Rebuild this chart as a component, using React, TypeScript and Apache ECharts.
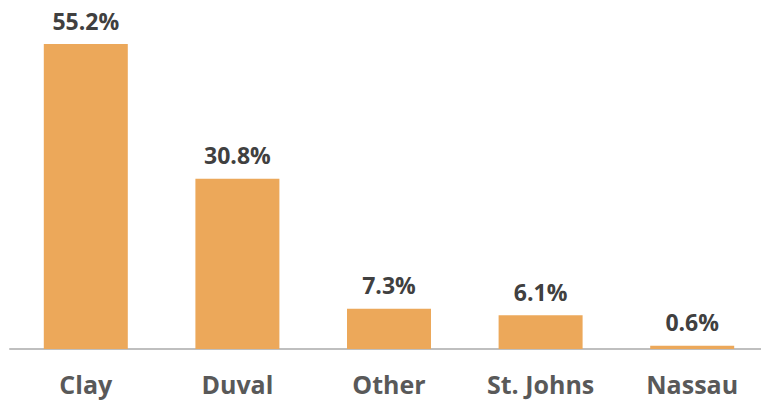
import React, { useEffect, useRef } from "react";
import * as echarts from "echarts";

const categories = ["Clay", "Duval", "Other", "St. Johns", "Nassau"];
const values = [55.2, 30.8, 7.3, 6.1, 0.6];

export default function App() {
  const ref = useRef<HTMLDivElement>(null);
  useEffect(() => {
    if (!ref.current) return;
    const chart = echarts.init(ref.current, null, { renderer: "svg" });
    chart.setOption({
      animation: false,
      grid: { left: 10, right: 0, top: 17.5, bottom: 57, containLabel: false },
      xAxis: {
        type: "category",
        data: categories,
        axisLine: { show: true, lineStyle: { color: "#BFBFBF", width: 2 } },
        axisTick: { show: false },
        axisLabel: {
          color: "#595959",
          fontFamily: "Open Sans",
          fontWeight: "bold",
          fontSize: 25,
          margin: 22,
          interval: 0,
        },
      },
      yAxis: {
        type: "value",
        min: 0,
        max: 60,
        show: false,
        splitLine: { show: false },
      },
      series: [
        {
          type: "bar",
          data: values,
          barWidth: 84,
          itemStyle: { color: "#ECA85A" },
          label: {
            show: true,
            position: "top",
            distance: 12,
            color: "#404040",
            fontFamily: "Open Sans",
            fontWeight: "bold",
            fontSize: 23,
            formatter: (p: any) => p.value.toFixed(1) + "%",
          },
        },
      ],
    });
    return () => chart.dispose();
  }, []);
  return (
    <div
      style={{ position: "fixed", left: 0, top: 0, width: 761, height: 406, overflow: "hidden", background: "#fff" }}
    >
      <div ref={ref} style={{ width: 768, height: 406 }} />
    </div>
  );
}
